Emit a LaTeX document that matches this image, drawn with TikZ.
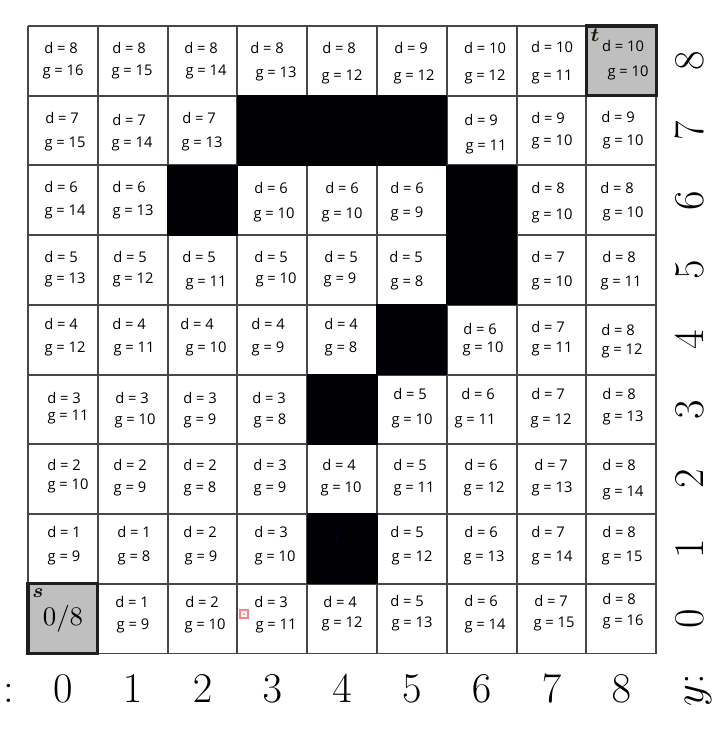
\documentclass[tikz,border=0pt]{standalone}
\usepackage{amsmath}
\usepackage{fontspec}
\newfontfamily\cellfont{Open Sans}
\newcommand\cellab[7]{%
  \node[celltext] (d#1) at (#2,{#3+5}) {d = #4};
  \node[celltext] (g#1) at (#5,{#6+5}) {g = #7};}
\begin{document}
\begin{tikzpicture}[x=0.014327cm,y=-0.014327cm,
  celltext/.style={anchor=base,inner sep=0pt,font=\cellfont\fontsize{6}{7}\selectfont},
  axlab/.style={anchor=base,inner sep=0pt,font=\LARGE},
  gridline/.style={draw=black!72,line width=0.8pt},
  blockcell/.style={fill=black!98!blue},
  endcell/.style={fill=black!25},
  endborder/.style={draw=black!88,line width=1.3pt},
  marklab/.style={anchor=base,inner sep=0pt,font=\footnotesize,text=black!85!brown}]
\useasboundingbox[fill=white] (0,0) rectangle (715,743);
% end cells
\fill[endcell] (28,{26+69.72*8}) rectangle ++(69.8,69.72);
\fill[endcell] ({28+69.8*8},26) rectangle ++(69.8,69.72);
% grid
\foreach \i in {0,...,9}
  \draw[gridline] ({28+69.8*\i},26) -- ({28+69.8*\i},653.5);
\foreach \j in {0,...,9}
  \draw[gridline] (28,{26+69.72*\j}) -- (656,{26+69.72*\j});
% blocked cells (drawn over the grid so that joined blocks are seamless)
\foreach \c/\r in {3/7,4/7,5/7,2/6,6/6,6/5,5/4,4/3,4/1}
  \fill[blockcell] ({28+69.8*\c-0.6},{26+69.72*(8-\r)-0.6}) rectangle ++(71,70.9);
\draw[endborder] (28,{26+69.72*8}) rectangle ++(69.8,69.72);
\draw[endborder] ({28+69.8*8},26) rectangle ++(69.8,69.72);
% row 8
\cellab{08}{61}{48}{8}{63}{70}{16}
\cellab{18}{129}{48}{8}{132}{70}{15}
\cellab{28}{201}{48}{8}{206}{70}{14}
\cellab{38}{267}{48}{8}{276}{72}{13}
\cellab{48}{339}{48}{8}{342}{75}{12}
\cellab{58}{411}{48}{9}{414}{75}{12}
\cellab{68}{485}{48}{10}{485}{75}{12}
\cellab{78}{552}{47}{10}{552}{75}{11}
\cellab{88}{623}{46}{10}{628}{71}{10}
% row 7
\cellab{07}{62}{118}{7}{65}{142}{15}
\cellab{17}{129}{120}{7}{132}{142}{14}
\cellab{27}{199}{118}{7}{202}{142}{13}
\cellab{67}{481}{120}{9}{486}{145}{11}
\cellab{77}{548}{118}{9}{552}{140}{10}
\cellab{87}{618}{117}{9}{623}{140}{10}
% row 6
\cellab{06}{61}{187}{6}{65}{210}{14}
\cellab{16}{129}{187}{6}{133}{210}{13}
\cellab{36}{271}{188}{6}{274}{213}{10}
\cellab{46}{342}{188}{6}{342}{213}{10}
\cellab{56}{407}{188}{6}{407}{212}{9}
\cellab{76}{548}{188}{8}{552}{214}{10}
\cellab{86}{617}{188}{8}{623}{212}{10}
% row 5
\cellab{05}{61}{257}{5}{65}{278}{13}
\cellab{15}{130}{257}{5}{133}{278}{12}
\cellab{25}{199}{257}{5}{206}{281}{11}
\cellab{35}{271}{257}{5}{276}{278}{10}
\cellab{45}{341}{257}{5}{340}{278}{9}
\cellab{55}{406}{257}{5}{407}{281}{8}
\cellab{75}{548}{257}{7}{552}{281}{10}
\cellab{85}{619}{257}{8}{621}{281}{11}
% row 4
\cellab{04}{61}{324}{4}{65}{347}{12}
\cellab{14}{129}{324}{4}{134}{347}{11}
\cellab{24}{197}{324}{4}{206}{347}{10}
\cellab{34}{268}{324}{4}{268}{347}{9}
\cellab{44}{341}{324}{4}{341}{347}{8}
\cellab{64}{480}{329}{6}{483}{347}{10}
\cellab{74}{548}{327}{7}{552}{347}{11}
\cellab{84}{618}{330}{8}{622}{349}{12}
% row 3
\cellab{03}{64}{398}{3}{68}{415}{11}
\cellab{13}{132}{398}{3}{135}{419}{10}
\cellab{23}{200}{398}{3}{200}{419}{9}
\cellab{33}{269}{398}{3}{270}{419}{8}
\cellab{53}{410}{394}{5}{412}{419}{10}
\cellab{63}{478}{394}{6}{475}{419}{11}
\cellab{73}{548}{394}{7}{551}{419}{12}
\cellab{83}{619}{394}{8}{623}{416}{13}
% row 2
\cellab{02}{64}{465}{2}{68}{484}{10}
\cellab{12}{130}{465}{2}{130}{487}{9}
\cellab{22}{200}{465}{2}{200}{487}{8}
\cellab{32}{270}{465}{3}{270}{487}{9}
\cellab{42}{339}{465}{4}{341}{487}{10}
\cellab{52}{410}{465}{5}{414}{487}{11}
\cellab{62}{481}{465}{6}{484}{487}{12}
\cellab{72}{551}{465}{7}{552}{487}{13}
\cellab{82}{619}{465}{8}{623}{491}{14}
% row 1
\cellab{01}{64}{532}{1}{64}{556}{9}
\cellab{11}{134}{532}{1}{134}{556}{8}
\cellab{21}{200}{532}{2}{201}{556}{9}
\cellab{31}{271}{532}{3}{275}{556}{10}
\cellab{51}{407}{532}{5}{412}{556}{12}
\cellab{61}{481}{532}{6}{484}{556}{13}
\cellab{71}{548}{532}{7}{552}{556}{14}
\cellab{81}{619}{532}{8}{622}{556}{15}
% row 0
\cellab{10}{132}{602}{1}{133}{624}{9}
\cellab{20}{202}{602}{2}{205}{624}{10}
\cellab{30}{271}{602}{3}{276}{624}{11}
\cellab{40}{340}{602}{4}{342}{622}{12}
\cellab{50}{407}{601}{5}{412}{622}{13}
\cellab{60}{481}{601}{6}{485}{624}{14}
\cellab{70}{551}{601}{7}{554}{622}{15}
\cellab{80}{619}{599}{8}{623}{620}{16}
% start / target
\node[anchor=base,inner sep=0pt,font=\fontsize{11}{13}\selectfont] (start) at (63,625) {$0/8$};
\node[marklab] (slab) at (38,597) {$\boldsymbol{s}$};
\node[marklab] (tlab) at (595,41) {$\boldsymbol{t}$};
% small marks
\draw[red!50,line width=0.5pt] (240,610) rectangle (248,618);
\fill[red!60] (244,614) circle (1);
\fill[blue!45!black] (337,538) circle (1.2);
% axis labels
\node[axlab] (xcolon) at (9,702) {:};
\foreach \i in {0,...,8}
  \node[axlab] (xl\i) at ({62.9+69.8*\i},702) {$\i$};
\foreach \i in {0,...,8}
  \node[axlab,rotate=90] (yl\i) at (703,{60.9+69.72*(8-\i)}) {$\i$};
\node[axlab,rotate=90] (ylab) at (703,690) {$y$:};
\end{tikzpicture}
\end{document}
